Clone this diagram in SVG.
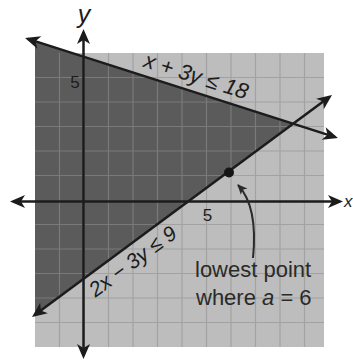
<svg xmlns="http://www.w3.org/2000/svg" width="353" height="362" viewBox="0 0 353 362">
<style>
.ln{stroke:#1c1c1c;stroke-width:2.5;fill:none}
.lbl{font-family:"Liberation Sans",Arial,sans-serif;fill:#1c1c1c}
.it{font-style:italic}
.note{font-family:"Liberation Sans",Arial,sans-serif;font-size:22px;fill:#2a2a2a}
</style>
<defs>
<marker id="ah" viewBox="-16 -8 19 16" refX="-3" refY="0" markerWidth="19" markerHeight="16" markerUnits="userSpaceOnUse" orient="auto-start-reverse">
<path d="M0,0 L-15,-6.5 L-11,0 L-15,6.5 Z" fill="#1c1c1c"/>
</marker>
<marker id="ahs" viewBox="-11 -6 12 12" refX="-1" refY="0" markerWidth="12" markerHeight="12" markerUnits="userSpaceOnUse" orient="auto">
<path d="M0,0 L-10,-4.5 L-7.5,0 L-10,4.5 Z" fill="#2a2a2a"/>
</marker>
<path id="grid" d="M59.5,53V347M84,53V347M108.5,53V347M133,53V347M157.5,53V347M182,53V347M206.5,53V347M231,53V347M255.5,53V347M280,53V347M304.5,53V347M35,77.5H324M35,102H324M35,126.5H324M35,151H324M35,175.5H324M35,224.5H324M35,249H324M35,273.5H324M35,298H324M35,322.5H324"/>
<clipPath id="darkclip"><polygon points="35,41.2 293.4,123.7 35,314.8"/></clipPath>
</defs>
<rect width="353" height="362" fill="#ffffff"/>
<g id="plane">
<rect x="35" y="53" width="289" height="294" fill="#bdbdbd"/>
<use href="#grid" stroke="#a2a2a2" stroke-width="1.2" fill="none"/>
<polygon id="feasible" points="35,41.2 293.4,123.7 35,314.8" fill="#5b5b5b"/>
<use href="#grid" stroke="#7a7a7a" stroke-width="1.2" fill="none" clip-path="url(#darkclip)"/>
</g>
<g id="connectors">
<line id="x-axis" class="ln" x1="13" y1="201.5" x2="340" y2="201.5" marker-start="url(#ah)" marker-end="url(#ah)"/>
<line id="y-axis" class="ln" x1="83.5" y1="32" x2="83.5" y2="356" marker-start="url(#ah)" marker-end="url(#ah)"/>
<line id="line1" class="ln" x1="27.9" y1="38.9" x2="335.1" y2="137.1" marker-start="url(#ah)" marker-end="url(#ah)"/>
<line id="line2" class="ln" x1="34.4" y1="315.2" x2="329.6" y2="96.8" marker-start="url(#ah)" marker-end="url(#ah)"/>
<path id="callout" d="M253,258 C256,228 253,201 238,185" stroke="#2a2a2a" stroke-width="2" fill="none" marker-end="url(#ahs)"/>
</g>
<g id="point"><circle cx="229" cy="172.5" r="5" fill="#151515"/></g>
<g id="labels">
<text class="lbl it" x="84" y="23" font-size="25" text-anchor="middle">y</text>
<text class="lbl it" x="344" y="207" font-size="17">x</text>
<text class="lbl" x="75" y="88" font-size="17" text-anchor="middle">5</text>
<text class="lbl" x="207.5" y="221" font-size="17" text-anchor="middle">5</text>
<text class="lbl it" x="194" y="83" font-size="22" text-anchor="middle" transform="rotate(17.7 194 83)">x + 3y ≤ 18</text>
<text class="lbl it" x="137" y="267" font-size="21" text-anchor="middle" transform="rotate(-36.5 137 267)">2x − 3y ≤ 9</text>
</g>
<g id="note">
<text class="note" x="195" y="277">lowest point</text>
<text class="note" x="196" y="305">where <tspan font-style="italic">a</tspan> = 6</text>
</g>
</svg>
